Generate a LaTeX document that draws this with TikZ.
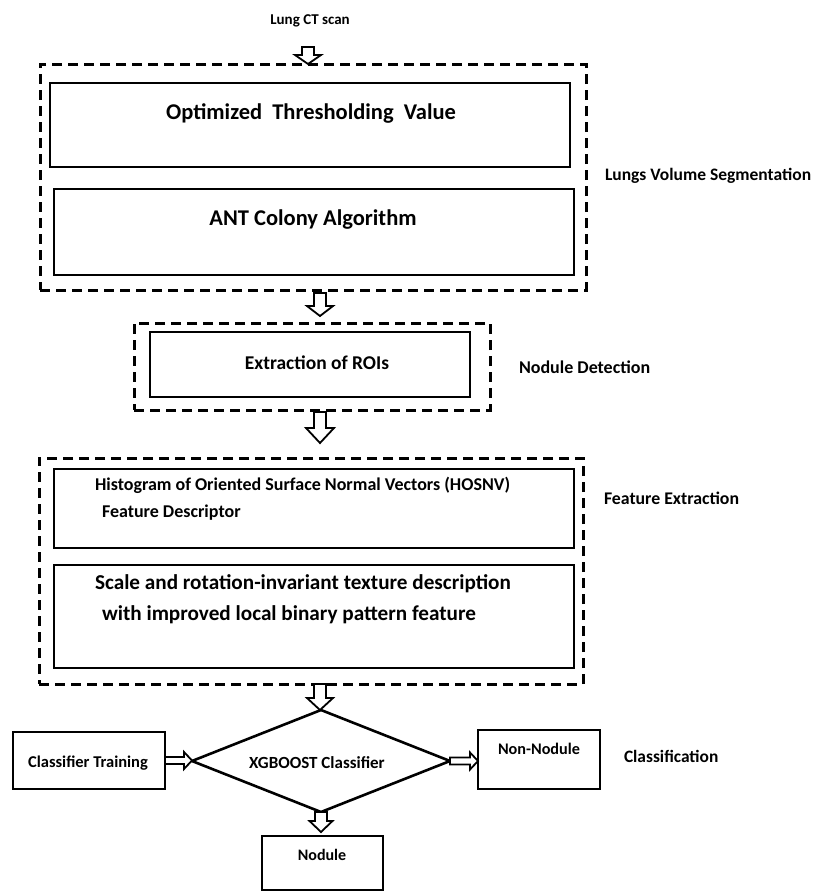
\documentclass[tikz,border=0pt]{standalone}
\usepackage{fontspec}
\setmainfont{Carlito}
\usetikzlibrary{calc,shapes.geometric}
\newcommand\fs[1]{\fontsize{#1}{#1}\selectfont\bfseries}
% vertical hollow block arrow: x and start y from #1, tip y from #2, head length #3, head half width #4
\newcommand\varrow[4]{%
  \draw[arrowline] let \p1=(#1), \p2=(#2) in
    (\x1-6pt,\y1) -- (\x1+6pt,\y1) -- (\x1+6pt,\y2+#3) -- (\x1+#4,\y2+#3) --
    (\x1,\y2) -- (\x1-#4,\y2+#3) -- (\x1-6pt,\y2+#3) -- cycle;}
% horizontal hollow block arrow pointing right
\newcommand\harrow[2]{%
  \draw[arrowline] let \p1=(#1), \p2=(#2) in
    (\x1,\y1+3.5pt) -- (\x2-8pt,\y1+3.5pt) -- (\x2-8pt,\y1+8.5pt) -- (\x2,\y1) --
    (\x2-8pt,\y1-8.5pt) -- (\x2-8pt,\y1-3.5pt) -- (\x1,\y1-3.5pt) -- cycle;}
\tikzset{
  dbox/.style={draw, dash pattern=on 10pt off 6pt, line width=3pt, inner sep=0pt, outer sep=0pt},
  sbox/.style={draw, line width=2.6pt, inner sep=0pt, outer sep=0pt},
  txt/.style={inner sep=0pt, outer sep=0pt},
  arrowline/.style={draw=black, fill=white, line width=1.8pt, line join=miter},
}
\begin{document}
\begin{tikzpicture}[x=1pt,y=-1pt]
\useasboundingbox[fill=white] (0,0) rectangle (814,892);

% ---- Lung volume segmentation
\node[txt, font=\fs{15}, anchor=base] (lct) at (310,24) {Lung CT scan};
\node[dbox, minimum width=546pt, minimum height=226pt] (seg) at (313,177) {};
\node[sbox, minimum width=520pt, minimum height=84pt] (otv) at (310,125) {};
\node[sbox, minimum width=520pt, minimum height=86pt] (aca) at (314,232) {};
\node[txt, font=\fs{22.5}, anchor=base] (otvt) at (311,119) {Optimized\ \ Thresholding\ \ Value};
\node[txt, font=\fs{22.5}, anchor=base] (acat) at (313,225) {ANT Colony Algorithm};
\node[txt, font=\fs{17.5}, anchor=base west] (lvs) at (605,180.5) {Lungs Volume Segmentation};

% ---- Nodule detection
\node[dbox, minimum width=356pt, minimum height=87pt] (nd) at (312,366.5) {};
\node[sbox, minimum width=320pt, minimum height=65pt] (roi) at (310,364.5) {};
\node[txt, font=\fs{19.5}, anchor=base] (roit) at (317,369.5) {Extraction of ROIs};
\node[txt, font=\fs{18}, anchor=base west] (ndl) at (519,373.8) {Nodule Detection};

% ---- Feature extraction
\node[dbox, minimum width=544pt, minimum height=226pt] (fe) at (311,571) {};
\node[sbox, minimum width=520pt, minimum height=79pt] (hos) at (314,508.5) {};
\node[sbox, minimum width=520pt, minimum height=103pt] (lbp) at (314,616.5) {};
\node[txt, font=\fs{18}, anchor=base west] (hos1) at (95,490.8) {Histogram of Oriented Surface Normal Vectors (HOSNV)};
\node[txt, font=\fs{18}, anchor=base west] (hos2) at (102,517.8) {Feature Descriptor};
\node[txt, font=\fs{21.2}, anchor=base west] (lbp1) at (95,589.8) {Scale and rotation-invariant texture description};
\node[txt, font=\fs{21.2}, anchor=base west] (lbp2) at (102,620.5) {with improved local binary pattern feature};
\node[txt, font=\fs{17.8}, anchor=base west] (fel) at (604,504.7) {Feature Extraction};

% ---- Classification
\node[draw, diamond, line width=2.6pt, inner sep=0pt, outer sep=0pt,
      minimum width=258pt, minimum height=102pt] (xg) at (321,761) {};
\node[txt, font=\fs{17}, anchor=base] (xgt) at (317,768.5) {XGBOOST Classifier};
\node[sbox, minimum width=152pt, minimum height=57pt] (ct) at (89,760.5) {};
\node[txt, font=\fs{16.5}, anchor=base] (ctt) at (88,767.3) {Classifier Training};
\node[sbox, minimum width=122pt, minimum height=59pt] (nn) at (539,759.5) {};
\node[txt, font=\fs{16.2}, anchor=base] (nnt) at (539,754.2) {Non-Nodule};
\node[txt, font=\fs{17.4}, anchor=base west] (cll) at (624,762.6) {Classification};
\node[sbox, minimum width=121pt, minimum height=54pt] (nod) at (322.5,863) {};
\node[txt, font=\fs{16}, anchor=base] (nodt) at (322,860) {Nodule};

% ---- arrows
\coordinate (a0s) at (308,47);
\varrow{a0s}{seg.north}{9pt}{13pt}
\varrow{$(seg.south)+(7,3)$}{$(nd.north)+(0,-7)$}{10pt}{13pt}
\varrow{$(nd.south)+(8,2)$}{$(fe.north)+(0,-15)$}{15pt}{14pt}
\varrow{$(fe.south)+(9,0)$}{xg.north}{12pt}{13pt}
\varrow{xg.south}{$(nod.north)+(0,-4)$}{11pt}{11.5pt}
\harrow{ct.east}{xg.west}
\harrow{xg.east}{nn.west}
\end{tikzpicture}
\end{document}
